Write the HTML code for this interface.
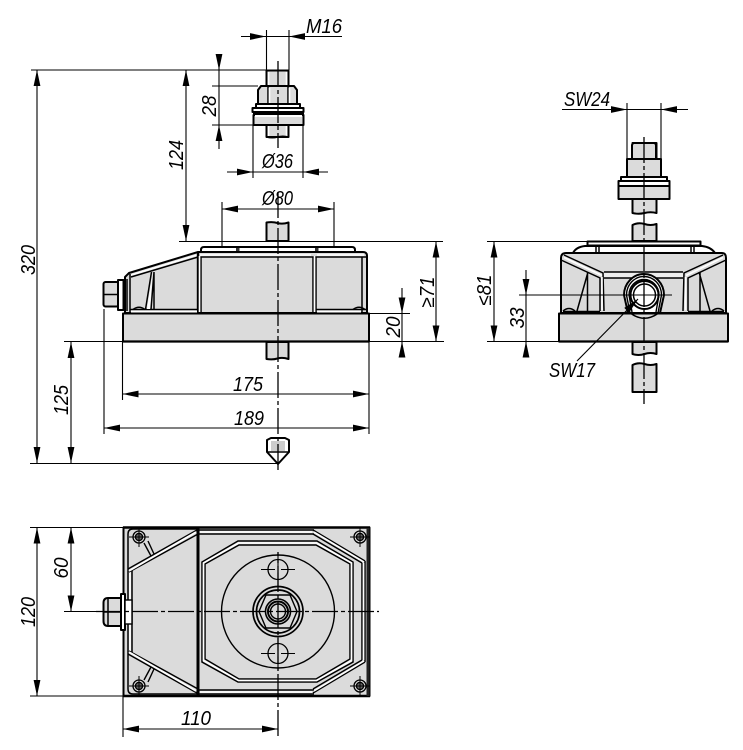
<!DOCTYPE html>
<html>
<head>
<meta charset="utf-8">
<style>
html,body{margin:0;padding:0;background:#fff}
svg{display:block}
text{font-family:"Liberation Sans",sans-serif;font-style:italic;font-size:20px;fill:#000}
.o{fill:#dbdbdb;stroke:#000;stroke-width:2;stroke-linejoin:round}
.l{fill:none;stroke:#000;stroke-width:1.5}
.t{fill:none;stroke:#000;stroke-width:1.4}
.h{fill:none;stroke:#fff;stroke-width:1.6}
.d{fill:none;stroke:#000;stroke-width:1.1}
.c{fill:none;stroke:#000;stroke-width:1.3;stroke-dasharray:26 3 4 3}
</style>
</head>
<body>
<svg width="743" height="750" viewBox="0 0 743 750" xmlns="http://www.w3.org/2000/svg">
<defs>
<polygon id="a" points="0,0 -16,-3.4 -16,3.4" fill="#000"/>
<g id="s">
<circle r="6" fill="#dbdbdb" stroke="#000" stroke-width="1.3"/>
<circle r="3.6" fill="#666" stroke="#000" stroke-width="1.3"/>
<path d="M-10 0H10M0 -10V10" stroke="#000" stroke-width="1" fill="none"/>
</g>
<g id="h">
<circle r="10" fill="#dbdbdb" stroke="#000" stroke-width="1.3"/>
<path d="M-17 0H-3M3 0H17M0 -17V-3M0 3V17" stroke="#000" stroke-width="1.1" fill="none"/>
</g>
</defs>

<!-- FRONT VIEW: top bolt assembly -->
<rect class="o" x="266.500" y="70.500" width="22" height="16"/>
<rect class="o" x="266.500" y="125" width="22" height="12"/>
<path class="h" d="M268.500 72V85M286.500 72V85M268.500 126V136M286.500 126V136" />
<path class="l" d="M266.500 137q6 1.500 11 0t11 0"/>
<polygon class="o" points="258,90 261,86 294,86 297,90 297,104 258,104"/>
<path class="l" d="M268 86V104M288 86V104"/>
<path class="h" d="M269.500 88V103M289.500 88V103"/>
<rect class="o" x="256" y="104" width="44" height="4" style="fill:#fff"/>
<rect class="o" x="252.500" y="108" width="51" height="4" style="fill:#fff"/>
<rect class="o" x="253.500" y="115" width="50" height="10"/>
<rect x="255" y="115" width="47" height="2" fill="#fff"/>
<path class="l" d="M253 113.500H304"/>
<path class="c" d="M278 61V148"/>

<!-- FRONT VIEW: shank stubs -->
<path class="o" d="M266.500 241V222.500q6 -1 11 0.500t11 -0.500V241Z"/>
<path class="o" d="M266.500 342V359q6 1 11 -0.500t11 0.500V342Z"/>

<!-- FRONT VIEW: top plate -->
<path class="o" style="fill:#fff" d="M201 253V250Q201 247 204 247H352Q355 247 355 250V253Z"/>
<rect x="236" y="248" width="3.500" height="5" fill="#333"/>
<rect x="315" y="248" width="3.500" height="5" fill="#333"/>

<!-- FRONT VIEW: housing -->
<path class="o" d="M125 313V277L129 273L198 252H363Q367 252 367 256V313Z"/>
<path class="l" d="M131 277L198 257H366"/>
<path class="h" d="M200 255H311M317 255H364M131 275L197 255"/>
<path d="M198 252V313" stroke="#000" stroke-width="2.400" fill="none"/>
<path class="l" d="M201 257V313M313 257V313M316 257V313"/>
<path class="h" d="M199.500 256V312M314.500 256V312"/>
<path class="l" d="M362 257V313M130 274V313M127 279V311"/>
<path class="l" d="M130 309.500H197M316 309.500H366"/>
<rect x="131" y="310.500" width="66" height="2" fill="#fff"/>
<rect x="317" y="310.500" width="44" height="2" fill="#fff"/>
<path class="l" d="M145.500 309.500L151.500 272M151 309.500L154 272M154 272V309"/>
<path fill="#fff" stroke="none" d="M147 309L152.500 274L150 309Z"/>
<path class="l" d="M133 309.500Q139 305 145 309.500M353 309.500Q359 305 365 309.500"/>

<!-- FRONT VIEW: base -->
<rect class="o" x="123" y="313.500" width="246" height="28"/>
<path d="M123 341.500H369" stroke="#000" stroke-width="2.200"/>

<!-- FRONT VIEW: side nut -->
<rect class="o" x="103.500" y="282" width="15" height="24.500" rx="2"/>
<path class="l" d="M104 294.500H118"/>
<rect class="o" x="118" y="280" width="5.500" height="30" style="fill:#fff"/>

<!-- FRONT VIEW: tip -->
<path class="o" d="M267 452V440L271 438H285L289 440V452L278 464Z" style="fill:#fff"/>
<rect x="271" y="441" width="14" height="10" fill="#ccc"/>
<path class="l" d="M267 452H289"/>
<path class="c" d="M278 192V471"/>

<!-- FRONT VIEW DIMS -->
<path class="d" d="M241 36.500H342M266.500 30V70M289 30V70"/>
<use href="#a" transform="translate(266,36.500)"/>
<use href="#a" transform="translate(289,36.500) rotate(180)"/>
<text x="306" y="33" textLength="36" lengthAdjust="spacingAndGlyphs">M16</text>

<path class="d" d="M31 70H266M212 86H258M212 125H253M219 62V149"/>
<use href="#a" transform="translate(219,70) rotate(90)"/>
<use href="#a" transform="translate(219,125) rotate(-90)"/>
<text transform="translate(216,106) rotate(-90)" text-anchor="middle" textLength="21" lengthAdjust="spacingAndGlyphs">28</text>

<path class="d" d="M227 172H328M253 125V178M303 125V178"/>
<use href="#a" transform="translate(253,172)"/>
<use href="#a" transform="translate(303,172) rotate(180)"/>
<text x="262" y="168" textLength="31" lengthAdjust="spacingAndGlyphs">Ø36</text>

<path class="d" d="M222 209H334M222 202V247M334 202V247"/>
<use href="#a" transform="translate(222,209) rotate(180)"/>
<use href="#a" transform="translate(334,209)"/>
<text x="262" y="205" textLength="31" lengthAdjust="spacingAndGlyphs">Ø80</text>

<path class="d" d="M179 241.500H443M186 70V241"/>
<use href="#a" transform="translate(186,70) rotate(-90)"/>
<use href="#a" transform="translate(186,241) rotate(90)"/>
<text transform="translate(183,155) rotate(-90)" text-anchor="middle" textLength="30" lengthAdjust="spacingAndGlyphs">124</text>

<path class="d" d="M37 70V463M30 463.500H278"/>
<use href="#a" transform="translate(37,70) rotate(-90)"/>
<use href="#a" transform="translate(37,463) rotate(90)"/>
<text transform="translate(35,260) rotate(-90)" text-anchor="middle" textLength="30" lengthAdjust="spacingAndGlyphs">320</text>

<path class="d" d="M64 341.500H444M71 342V463"/>
<use href="#a" transform="translate(71,342) rotate(-90)"/>
<use href="#a" transform="translate(71,463) rotate(90)"/>
<text transform="translate(68,400) rotate(-90)" text-anchor="middle" textLength="30" lengthAdjust="spacingAndGlyphs">125</text>

<path class="d" d="M122.500 342V400M369 342V434M122 394H369"/>
<use href="#a" transform="translate(122.500,394) rotate(180)"/>
<use href="#a" transform="translate(369,394)"/>
<text x="248" y="391" text-anchor="middle" textLength="30" lengthAdjust="spacingAndGlyphs">175</text>

<path class="d" d="M104 309V434M104 428H369"/>
<use href="#a" transform="translate(104,428) rotate(180)"/>
<use href="#a" transform="translate(369,428)"/>
<text x="249" y="425" text-anchor="middle" textLength="30" lengthAdjust="spacingAndGlyphs">189</text>

<path class="d" d="M369 313.500H410M402 288V355"/>
<use href="#a" transform="translate(402,313.500) rotate(90)"/>
<use href="#a" transform="translate(402,341.500) rotate(-90)"/>
<text transform="translate(400,327) rotate(-90)" text-anchor="middle" textLength="21" lengthAdjust="spacingAndGlyphs">20</text>

<path class="d" d="M436 241V341"/>
<use href="#a" transform="translate(436,241.500) rotate(-90)"/>
<use href="#a" transform="translate(436,341.500) rotate(90)"/>
<text transform="translate(434,292) rotate(-90)" text-anchor="middle" textLength="31" lengthAdjust="spacingAndGlyphs">≥71</text>

<!-- RIGHT VIEW -->
<path class="o" d="M632.500 143V213q6 1.500 12 0t12 0V143Z"/>
<rect class="o" x="627" y="159" width="34" height="18"/>
<path class="o" d="M633 143h22l1 2V159H632V145Z"/>
<rect class="o" x="621" y="177" width="46" height="4" style="fill:#fff"/>
<rect class="o" x="618.500" y="181" width="51" height="5" style="fill:#fff"/>
<rect class="o" x="618.500" y="186" width="51" height="13"/>
<path class="o" d="M632.500 241V225q6 -3 12 -1t12 0V241Z"/>
<path class="o" d="M632.500 342V354q6 2 12 0t12 0V342Z"/>
<path class="o" d="M632.500 392V365q6 -3 12 -1t12 0V392Z"/>

<rect class="o" x="587.500" y="241.500" width="113" height="4" style="fill:#fff"/>
<path class="o" style="fill:#fff" d="M573 253Q576 247 585 246H702Q711 247 715 253Z"/>
<path class="l" d="M596 246V253M599 246V253M691 246V253M694 246V253"/>

<path class="o" d="M561 313V258Q561 253 566 253H722Q726 253 726 258V313Z"/>
<rect x="604" y="272" width="79" height="6" fill="#eee"/>
<path class="l" d="M604 272H683M604 278H683"/>
<path class="l" d="M564 255L603 273L604 311M723 255L684 273L683 311"/>
<path class="l" d="M561 260L600 278V311M726 260L688 278V311"/>
<path class="h" d="M564 257.500L602 275.500M602 277V310M723 257.500L686 275.500M685.500 277V310"/>
<path class="l" d="M587.500 272V311M577 311L588 272M700 272V311M710 311L699 272"/>
<path class="l" d="M600 311.500H563M688 311.500H724"/>
<path class="l" d="M563 311Q569 306 575 311M712 311Q718 306 724 311"/>

<rect class="o" x="559" y="313.500" width="169" height="28"/>
<path d="M559 341.500H728" stroke="#000" stroke-width="2.200"/>

<path class="o" d="M628 313L624 295A20 21 0 0 1 664 295L660 313Z" style="fill:#fff"/>
<path class="t" d="M630 313L626.500 295A17.500 18.500 0 0 1 661.500 295L658 313"/>
<path class="t" d="M632 312L629 295A15 15.500 0 0 1 659 295L656 312"/>
<circle cx="644.500" cy="295" r="14" fill="#fff" stroke="#000" stroke-width="2"/>
<circle cx="644.500" cy="295" r="11" fill="#fff" stroke="#000" stroke-width="1.500"/>
<path class="l" d="M631 313.500Q644 323 658 313.500"/>
<path class="c" d="M644 137V404"/>

<path class="d" d="M562 109.500H688M627 103V159M661 103V159"/>
<use href="#a" transform="translate(627,109.500)"/>
<use href="#a" transform="translate(661,109.500) rotate(180)"/>
<text x="564" y="106" textLength="46" lengthAdjust="spacingAndGlyphs">SW24</text>

<path class="d" d="M487 241.500H587M487 341.500H559M494 241V341"/>
<use href="#a" transform="translate(494,241.500) rotate(-90)"/>
<use href="#a" transform="translate(494,341.500) rotate(90)"/>
<text transform="translate(491,290) rotate(-90)" text-anchor="middle" textLength="31" lengthAdjust="spacingAndGlyphs">≤81</text>

<path class="d" d="M519 295H672M526 270V355M519 341.500H559"/>
<use href="#a" transform="translate(526,295) rotate(90)"/>
<use href="#a" transform="translate(526,341.500) rotate(-90)"/>
<text transform="translate(524,318) rotate(-90)" text-anchor="middle" textLength="21" lengthAdjust="spacingAndGlyphs">33</text>

<path class="d" d="M577 361L638 299"/>
<use href="#a" transform="translate(638,299) rotate(-45)"/>
<text x="549" y="377" textLength="46" lengthAdjust="spacingAndGlyphs">SW17</text>

<!-- PLAN VIEW -->
<rect class="o" x="123.500" y="527.500" width="246" height="168.500"/>
<path d="M123 527.500H370" stroke="#000" stroke-width="2.500"/>
<path d="M123 696H370" stroke="#000" stroke-width="2.500"/>
<path d="M198 528V696" stroke="#000" stroke-width="3"/>
<rect x="366.500" y="528" width="3" height="168" fill="#222"/>
<path class="l" d="M128 570V534Q128 529 133 529H198M128 653V689Q128 694 133 694H198"/>
<path class="l" d="M128 570V653M132 570V653"/>
<path class="h" d="M130 571V652"/>
<path class="l" d="M199 530H314M199 534H314M199 690H314M199 694H314"/>
<path class="h" d="M200 532H312M200 692H312"/>
<path class="l" d="M128 569L197 530M129 572L198 534M128 654L197 693M129 651L198 689"/>
<path class="h" d="M129 571L196 532M129 652L196 691"/>
<path class="l" d="M313 530L365 561M313 534L362 563M313 693L365 662M313 689L362 660M362 563V660M365 561V662"/>
<path class="h" d="M314 532L364 562M314 691L364 661M363.500 563V660"/>
<polygon class="l" points="238,541 317,541 353,562 353,662 317,682 238,682 202,662 202,562"/>
<polygon class="l" points="239,545 316,545 350,564 350,659 316,679 239,679 205,659 205,564"/>
<polygon fill="none" stroke="#fff" stroke-width="1.600" points="238.500,543 316.500,543 351.500,563 351.500,660.500 316.500,680.500 238.500,680.500 203.500,660.500 203.500,563"/>
<circle cx="278" cy="611.500" r="56.500" class="t"/>
<use href="#h" x="278" y="569.500"/>
<use href="#h" x="278" y="653.500"/>
<circle cx="278" cy="611.500" r="25" class="t" style="stroke-width:1.700"/>
<circle cx="278" cy="611.500" r="21.500" class="t" style="stroke-width:1.700"/>
<polygon class="t" points="266,595 290,595 297,611.500 290,628 266,628 259,611.500"/>
<circle cx="278" cy="611.500" r="12.500" fill="#dbdbdb" stroke="#000" stroke-width="1.600"/>
<circle cx="278" cy="611.500" r="10" fill="none" stroke="#000" stroke-width="2"/>
<circle cx="278" cy="611.500" r="7.500" fill="#dbdbdb" stroke="#000" stroke-width="1.400"/>
<use href="#s" x="139" y="537"/>
<use href="#s" x="360" y="537"/>
<use href="#s" x="139" y="686"/>
<use href="#s" x="360" y="686"/>
<path class="t" d="M144 543L151 556M148 541L154 554M144 680L151 667M148 682L154 669"/>
<path class="o" d="M103.500 603Q103.500 598 108 598H121V626H108Q103.500 626 103.500 621Z"/>
<path class="l" d="M104 612H121M108 598V626"/>
<rect class="o" x="121" y="594" width="4" height="36" style="fill:#fff"/>
<rect class="t" x="125" y="600" width="7" height="24" style="fill:#fff"/>
<path class="c" d="M96 611.500H379"/>
<path class="c" d="M278 552V737" stroke-dashoffset="-14"/>

<path class="d" d="M30 527.500H124M30 696H124M37 527V696M64 611.500H104M71 527V611"/>
<use href="#a" transform="translate(37,527.500) rotate(-90)"/>
<use href="#a" transform="translate(37,696) rotate(90)"/>
<text transform="translate(35,612) rotate(-90)" text-anchor="middle" textLength="30" lengthAdjust="spacingAndGlyphs">120</text>
<use href="#a" transform="translate(71,527.500) rotate(-90)"/>
<use href="#a" transform="translate(71,611.500) rotate(90)"/>
<text transform="translate(68,568) rotate(-90)" text-anchor="middle" textLength="21" lengthAdjust="spacingAndGlyphs">60</text>
<path class="d" d="M123 696V737M123 729H278"/>
<use href="#a" transform="translate(123,729) rotate(180)"/>
<use href="#a" transform="translate(278,729)"/>
<text x="196" y="725" text-anchor="middle" textLength="30" lengthAdjust="spacingAndGlyphs">110</text>
</svg>
</body>
</html>
